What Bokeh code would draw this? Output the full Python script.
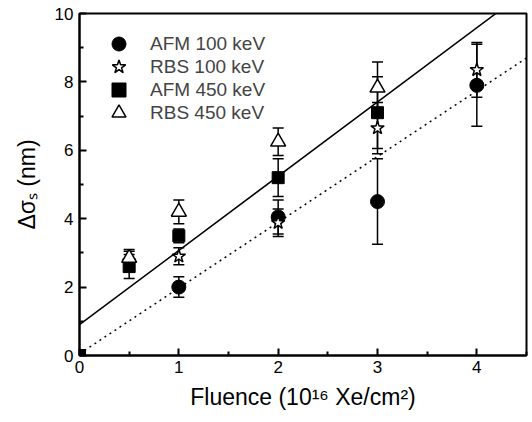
from bokeh.plotting import figure
from bokeh.models import Range1d, FixedTicker, Whisker, TeeHead, ColumnDataSource, Legend, LegendItem
from bokeh.embed import file_html
from bokeh.resources import INLINE

# data
afm100_x = [1, 2, 3, 4]
afm100_y = [2.0, 4.05, 4.5, 7.9]
afm100_e = [0.3, 0.5, 1.25, 1.2]

rbs100_x = [0.5, 1, 2, 3, 4]
rbs100_y = [2.75, 2.9, 3.88, 6.65, 8.35]
rbs100_e = [0.3, 0.25, 0.4, 0.75, 0.8]

afm450_x = [0, 0.5, 1, 2, 3]
afm450_y = [0.0, 2.6, 3.5, 5.2, 7.1]
afm450_e = [0.0, 0.35, 0.2, 0.55, 1.05]

rbs450_x = [0.5, 1, 2, 3]
rbs450_y = [2.85, 4.2, 6.25, 7.83]
rbs450_e = [0.25, 0.35, 0.4, 0.75]

series_labels = ["AFM 100 keV", "RBS 100 keV", "AFM 450 keV", "RBS 450 keV"]

fit_x = [0, 4.5]
solid_fit_y = [0.9, 10.67]
dotted_fit_y = [0.05, 8.7]

x_ticks = [0, 1, 2, 3, 4]
x_minor = [0.5, 1.5, 2.5, 3.5, 4.5]
y_ticks = [0, 2, 4, 6, 8, 10]
y_minor = [1, 3, 5, 7, 9]

FONT = "Liberation Sans"

p = figure(width=530, height=420, output_backend="svg", toolbar_location=None,
           x_range=Range1d(0, 4.5), y_range=Range1d(0, 10),
           min_border_left=79, min_border_right=4, min_border_top=13, min_border_bottom=65)
p.grid.visible = False
p.outline_line_color = "black"
p.outline_line_width = 2
p.background_fill_color = "white"
p.border_fill_color = "white"

for ax in (p.xaxis[0], p.yaxis[0]):
    ax.axis_line_width = 2
    ax.major_tick_in = 7
    ax.major_tick_out = 0
    ax.minor_tick_in = 4
    ax.minor_tick_out = 0
    ax.major_tick_line_width = 2
    ax.minor_tick_line_width = 2
    ax.major_label_text_font = FONT
    ax.major_label_text_font_size = "17px"
    ax.major_label_text_color = "black"
    ax.axis_label_text_font = FONT
    ax.axis_label_text_font_style = "normal"
    ax.axis_label_text_font_size = "23px"
    ax.axis_label_text_color = "black"

p.xaxis.ticker = FixedTicker(ticks=x_ticks, minor_ticks=x_minor)
p.yaxis.ticker = FixedTicker(ticks=y_ticks, minor_ticks=y_minor)
p.xaxis.axis_label = "Fluence (10\u00b9\u2076 Xe/cm\u00b2)"
p.yaxis.axis_label = "\u0394\u03c3\u209b (nm)"
p.xaxis.major_label_standoff = 5
p.yaxis.major_label_standoff = 6
p.xaxis.axis_label_standoff = 8
p.yaxis.axis_label_standoff = 12

# fit lines
p.line(fit_x, solid_fit_y, line_color="black", line_width=1.5)
p.line(fit_x, dotted_fit_y, line_color="black", line_width=1.5, line_dash="2 4")

def errbars(xs, ys, es):
    src = ColumnDataSource(dict(x=xs, lo=[y - e for y, e in zip(ys, es)], hi=[y + e for y, e in zip(ys, es)]))
    w = Whisker(source=src, base="x", lower="lo", upper="hi", line_color="black", line_width=1.5,
                lower_head=TeeHead(size=11, line_width=1.5, line_color="black"),
                upper_head=TeeHead(size=11, line_width=1.5, line_color="black"))
    p.add_layout(w)

errbars(afm100_x, afm100_y, afm100_e)
errbars(rbs100_x, rbs100_y, rbs100_e)
errbars(afm450_x, afm450_y, afm450_e)
errbars(rbs450_x, rbs450_y, rbs450_e)

r1 = p.scatter(afm100_x, afm100_y, marker="circle", size=14, fill_color="black", line_color="black")
r2 = p.scatter(rbs100_x, rbs100_y, marker="star", size=14, fill_color="white", line_color="black", line_width=1.5)
r3 = p.scatter(afm450_x, afm450_y, marker="square", size=12, fill_color="black", line_color="black")
r4 = p.scatter(rbs450_x, rbs450_y, marker="triangle", size=15, fill_color="white", line_color="black", line_width=1.5)

for i, (lab, r) in enumerate(zip(series_labels, [r1, r2, r3, r4])):
    leg = Legend(items=[LegendItem(label=lab, renderers=[r])],
                 location=(22, 294 - 23 * i), border_line_color=None, background_fill_alpha=0,
                 label_text_font=FONT, label_text_font_size="19px", label_standoff=14,
                 spacing=0, margin=0, padding=0, glyph_width=35, glyph_height=35)
    p.add_layout(leg)

open("out.html", "w").write(file_html(p, INLINE))
